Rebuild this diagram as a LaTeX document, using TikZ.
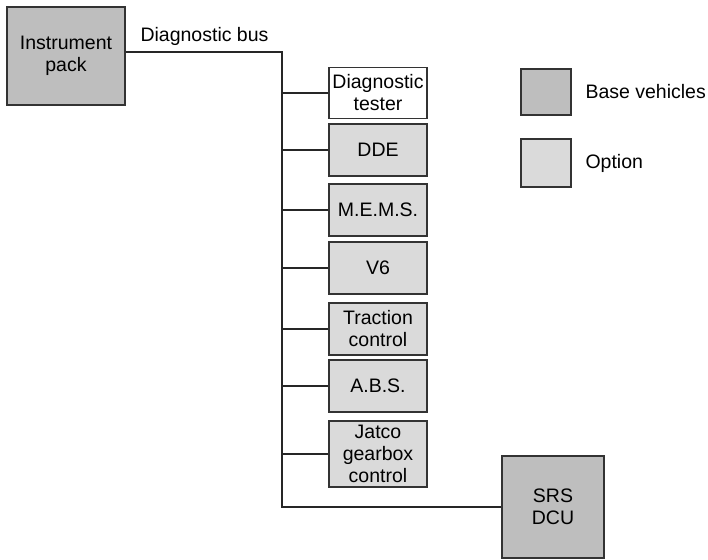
\documentclass[tikz,border=0pt]{standalone}
\usepackage{fontspec}
\setmainfont{Liberation Sans}
\usetikzlibrary{positioning}
\definecolor{basegray}{HTML}{BEBEBE}
\definecolor{optgray}{HTML}{DADADA}
\definecolor{edgegray}{HTML}{333333}
\begin{document}
\begin{tikzpicture}[
        x=1pt, y=-1pt,
        font=\fontsize{19.5}{22}\selectfont,
        line width=1.1pt,
        % boxes of the bus members
        unit/.style={draw=edgegray, align=center, inner sep=0pt,
            minimum width=98pt, minimum height=52pt},
        base/.style={unit, fill=basegray},
        option/.style={unit, fill=optgray},
        bus/.style={draw=black!85}
    ]
    \useasboundingbox (0,0) rectangle (708,559);

    % main units
    \node[base, minimum width=118pt, minimum height=98pt] (pack) at (66,56) {Instrument\\pack};
    \node[base, minimum width=102pt, minimum height=102pt] (srs) at (553,507) {SRS\\DCU};

    % units on the bus
    \node[unit, fill=white, minimum height=51pt] (tester) at (378,93) {Diagnostic\\tester};
    \node[option] (dde) at (378,150) {DDE};
    \node[option] (mems) at (378,210) {M.E.M.S.};
    \node[option] (vsix) at (378,268) {V6};
    \node[option] (traction) at (378,329) {Traction\\control};
    \node[option] (abs) at (378,386) {A.B.S.};
    \node[option, minimum height=66pt] (jatco) at (378,454) {Jatco\\gearbox\\control};

    % bus line
    \coordinate (bustop) at (282,52);
    \coordinate (busbot) at (282,507);
    \draw[bus] (pack.east |- bustop) -- (bustop) -- (busbot) -- (srs.west);
    \node[anchor=south west, inner sep=0pt] (buslabel) at (140,46) {Diagnostic bus};
    \foreach \n in {tester,dde,mems,vsix,traction,abs,jatco}
        \draw[bus] (\n.west) -- (\n.west -| bustop);

    % legend
    \node[base, minimum width=50pt, minimum height=46pt] (keybase) at (546,92) {};
    \node[option, minimum width=50pt, minimum height=48pt] (keyopt) at (546,163) {};
    \node[anchor=west, inner sep=0pt] (keybasetext) at (585,92) {Base vehicles};
    \node[anchor=west, inner sep=0pt] (keyopttext) at (585,163) {Option};
\end{tikzpicture}
\end{document}
